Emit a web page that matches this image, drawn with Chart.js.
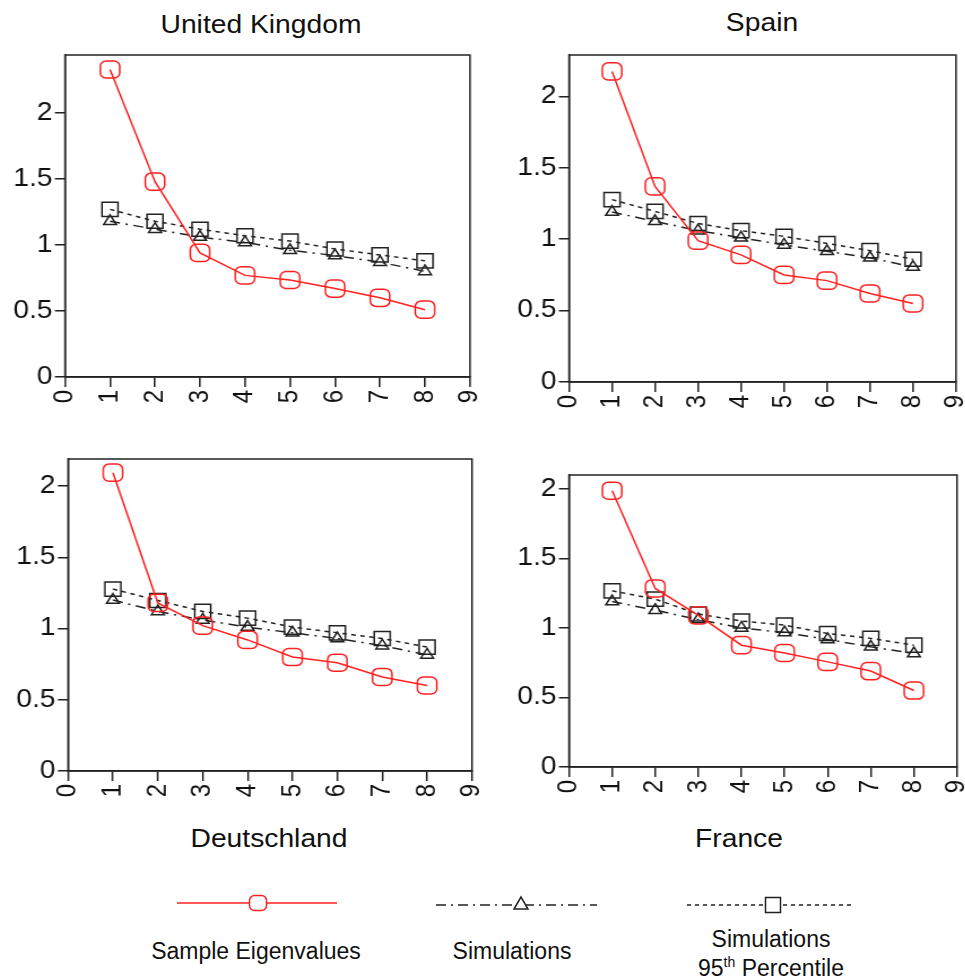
<!DOCTYPE html>
<html>
<head>
<meta charset="utf-8">
<script src="https://cdn.jsdelivr.net/npm/chart.js@4"></script>
<style>
  body { margin: 0; background: #fff; width: 965px; height: 979px; position: relative; overflow: hidden;
         font-family: "Liberation Sans", Arial, sans-serif; color: #111; }
  canvas { position: absolute; transform-origin: 0 0; }
  .t { position: absolute; white-space: nowrap; transform: translateX(-50%); }
  .title { font-size: 25px; line-height: 27px; transform: translateX(-50%) scaleX(1.13); }
  .leg { font-size: 23px; line-height: 23px; }
  .leg sup { font-size: 14px; line-height: 0; vertical-align: 9px; }
</style>
</head>
<body>

<div class="t title" style="left:261px;top:11px">United Kingdom</div>
<div class="t title" style="left:762px;top:9px">Spain</div>
<div class="t title" style="left:269px;top:825px">Deutschland</div>
<div class="t title" style="left:739px;top:825px">France</div>

<svg style="position:absolute;left:0;top:880px" width="965" height="50">
  <line x1="177" y1="23" x2="337" y2="23" stroke="#ff2020" stroke-width="1.5"/>
  <rect x="249.5" y="15.5" width="17" height="15" rx="5" fill="#fff" stroke="#ff2020" stroke-width="1.5"/>
  <line x1="436" y1="25" x2="597" y2="25" stroke="#222" stroke-width="1.5" stroke-dasharray="10 5 2 5"/>
  <polygon points="521,17 514,29 528,29" fill="#fff" stroke="#222" stroke-width="1.5"/>
  <line x1="687" y1="25" x2="853" y2="25" stroke="#222" stroke-width="1.5" stroke-dasharray="4 4"/>
  <rect x="765.5" y="17.5" width="15" height="15" fill="#fff" stroke="#222" stroke-width="1.5"/>
</svg>

<div class="t leg" style="left:256px;top:940px">Sample Eigenvalues</div>
<div class="t leg" style="left:512px;top:940px">Simulations</div>
<div class="t leg" style="left:771px;top:928px">Simulations</div>
<div class="t leg" style="left:771px;top:957px">95<sup>th</sup> Percentile</div>

<script>
// component number on the x axis
const components = [1, 2, 3, 4, 5, 6, 7, 8];
const yTicks = [0, 0.5, 1, 1.5, 2];

// United Kingdom
const ukSample = [2.33, 1.48, 0.94, 0.77, 0.735, 0.67, 0.60, 0.51];
const ukSim    = [1.18, 1.12, 1.06, 1.02, 0.96, 0.92, 0.87, 0.80];
const ukP95    = [1.27, 1.18, 1.12, 1.07, 1.03, 0.97, 0.925, 0.88];

// Spain
const esSample = [2.175, 1.37, 0.99, 0.89, 0.75, 0.71, 0.62, 0.55];
const esSim    = [1.19, 1.125, 1.06, 1.01, 0.96, 0.915, 0.87, 0.805];
const esP95    = [1.277, 1.195, 1.11, 1.06, 1.02, 0.97, 0.92, 0.86];

// Deutschland
const deSample = [2.094, 1.18, 1.02, 0.92, 0.80, 0.76, 0.66, 0.60];
const deSim    = [1.20, 1.12, 1.06, 1.01, 0.97, 0.93, 0.88, 0.815];
const deP95    = [1.277, 1.197, 1.12, 1.073, 1.01, 0.97, 0.93, 0.87];

// France
const frSample = [1.987, 1.284, 1.09, 0.876, 0.82, 0.756, 0.69, 0.55];
const frSim    = [1.19, 1.128, 1.06, 1.00, 0.967, 0.917, 0.864, 0.816];
const frP95    = [1.267, 1.207, 1.10, 1.05, 1.02, 0.96, 0.925, 0.876];

const INK = '#222';
const RED = '#ff2020';
const STRETCH = 1.13; // the original figure is a bit wider than tall

// closes the plot box on top and right
const framePlugin = {
  id: 'frame',
  beforeDatasetsDraw(chart) {
    const { ctx, chartArea: a } = chart;
    ctx.save();
    ctx.strokeStyle = INK;
    ctx.lineWidth = 1.5;
    ctx.strokeRect(a.left, a.top, a.right - a.left, a.bottom - a.top);
    ctx.restore();
  }
};

const pts = (vals) => vals.map((v, i) => ({ x: components[i], y: v }));

function makePanel(box, yMax, sample, sim, p95) {
  const padT = 24, padR = 24, yW = 65, xH = 45;
  const w = (box.right - box.left + yW + padR) / STRETCH;
  const h = box.bottom - box.top + padT + xH;
  const c = document.createElement('canvas');
  c.width = Math.round(w); c.height = h;
  c.style.width = Math.round(w) + 'px';
  c.style.height = h + 'px';
  c.style.left = (box.left - yW) + 'px';
  c.style.top = (box.top - padT) + 'px';
  c.style.transform = `scaleX(${(box.right - box.left + yW + padR) / Math.round(w)})`;
  document.body.appendChild(c);

  const border = { display: true, color: INK, width: 1.5 };
  const tickFont = { family: '"Liberation Sans", Arial, sans-serif', size: 25 };

  new Chart(c, {
    type: 'line',
    data: {
      datasets: [
        {
          label: 'Sample Eigenvalues', data: pts(sample),
          borderColor: RED, borderWidth: 1.5, backgroundColor: 'rgba(0,0,0,0)',
          pointStyle: 'rectRounded', pointRadius: 10, pointBorderWidth: 1.5,
          pointBorderColor: RED, pointBackgroundColor: 'rgba(0,0,0,0)', tension: 0
        },
        {
          label: 'Simulations', data: pts(sim),
          borderColor: INK, borderWidth: 1.5, borderDash: [9, 5, 2, 5],
          pointStyle: 'triangle', pointRadius: 6.5, pointBorderWidth: 1.5,
          pointBorderColor: INK, pointBackgroundColor: 'rgba(0,0,0,0)', tension: 0
        },
        {
          label: 'Simulations 95th Percentile', data: pts(p95),
          borderColor: INK, borderWidth: 1.5, borderDash: [4, 4],
          pointStyle: 'rect', pointRadius: 10, pointBorderWidth: 1.5,
          pointBorderColor: INK, pointBackgroundColor: 'rgba(0,0,0,0)', tension: 0
        }
      ]
    },
    options: {
      responsive: false,
      animation: false,
      layout: { padding: { top: padT, right: padR / STRETCH, left: 0, bottom: 0 } },
      plugins: { legend: { display: false }, tooltip: { enabled: false } },
      scales: {
        x: {
          type: 'linear', min: 0, max: 9,
          grid: { display: true, drawOnChartArea: false, tickLength: 10, color: INK, lineWidth: 1.5 },
          border,
          ticks: { stepSize: 1, minRotation: 90, maxRotation: 90, padding: 3, color: '#111',
                   font: { ...tickFont, size: 24 }, callback: v => String(v) },
          afterFit: s => { s.height = xH; s.paddingLeft = 0; s.paddingRight = 0; }
        },
        y: {
          min: 0, max: yMax,
          grid: { display: true, drawOnChartArea: false, tickLength: 9, color: INK, lineWidth: 1.5 },
          border,
          afterBuildTicks: s => { s.ticks = yTicks.map(v => ({ value: v })); },
          ticks: { padding: 2, color: '#111', font: tickFont,
                   callback: v => String(Math.round(v * 10) / 10) },
          afterFit: s => { s.width = yW / STRETCH; s.paddingTop = 0; s.paddingBottom = 0; }
        }
      }
    },
    plugins: [framePlugin]
  });
}

makePanel({ left: 65, right: 470, top: 55, bottom: 377 }, 2.44, ukSample, ukSim, ukP95);
makePanel({ left: 569, right: 956, top: 55, bottom: 382 }, 2.29, esSample, esSim, esP95);
makePanel({ left: 68, right: 472, top: 459, bottom: 771 }, 2.19, deSample, deSim, deP95);
makePanel({ left: 569, right: 957, top: 475, bottom: 767 }, 2.10, frSample, frSim, frP95);
</script>
</body>
</html>
